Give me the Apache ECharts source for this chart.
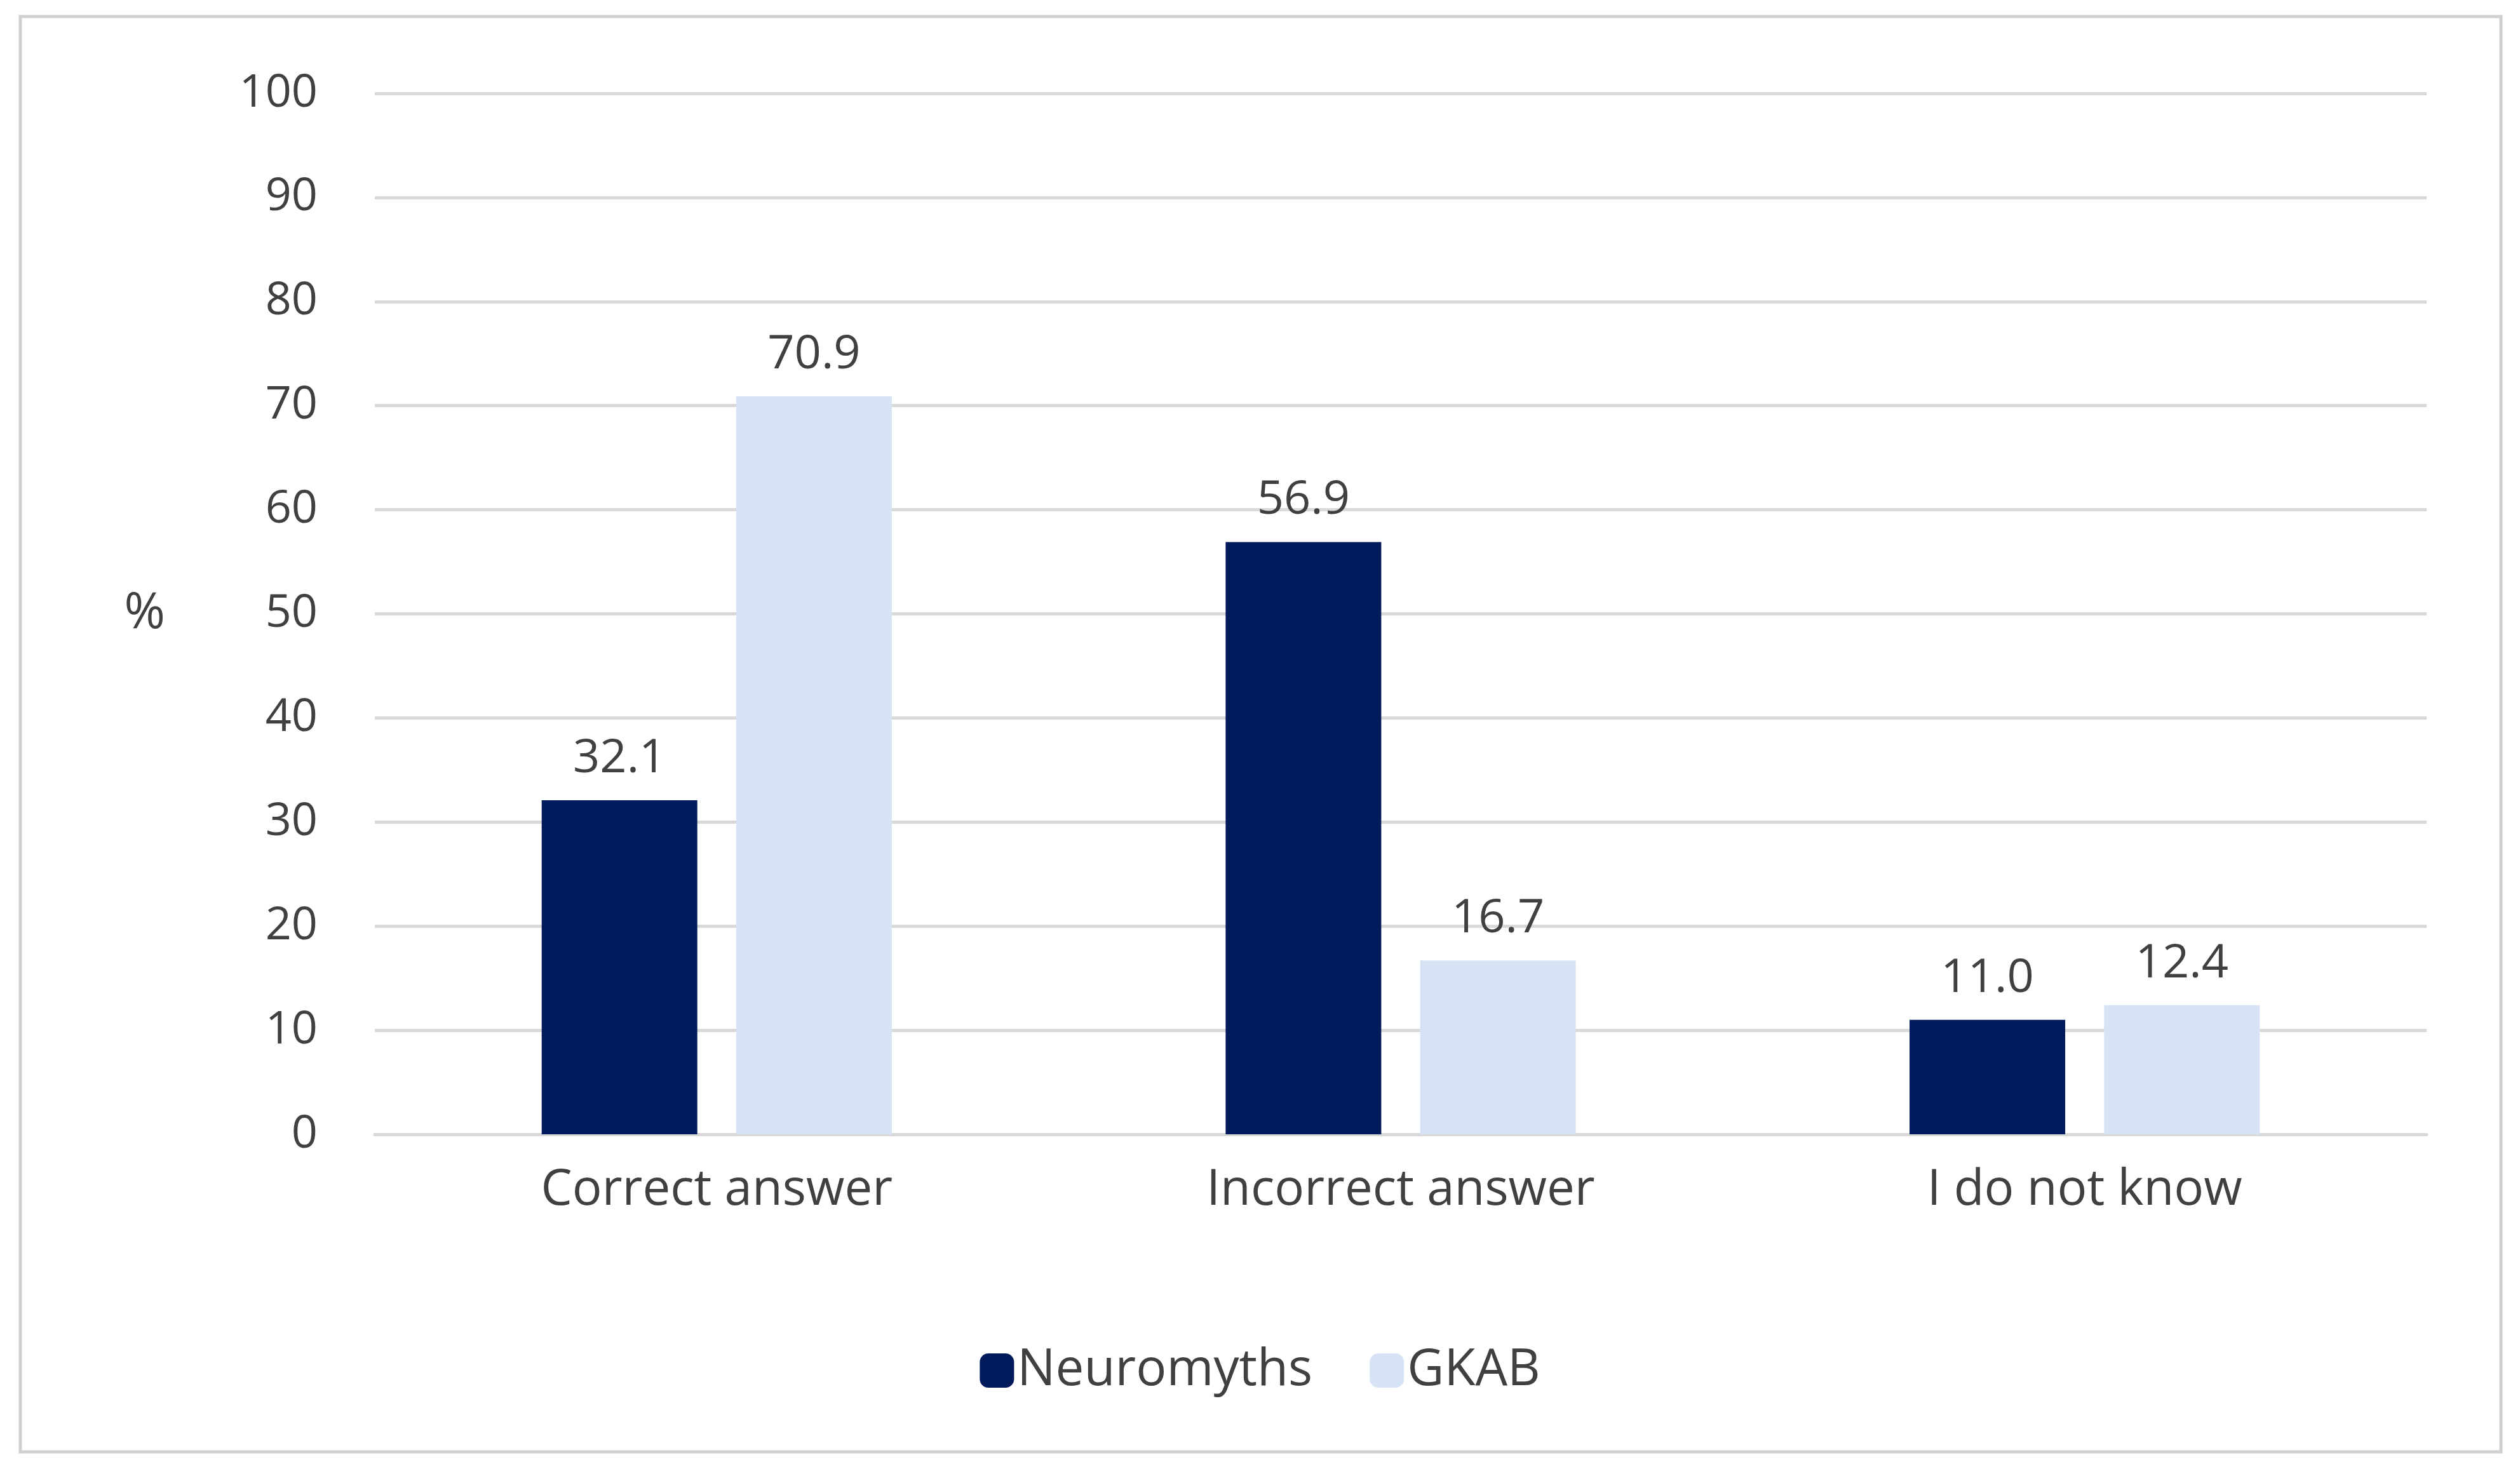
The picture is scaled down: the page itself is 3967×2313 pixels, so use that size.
<!DOCTYPE html>
<html><head><meta charset="utf-8">
<script src="https://cdn.jsdelivr.net/npm/echarts@6/dist/echarts.min.js"></script>
<style>html,body{margin:0;padding:0;background:#fff}#c{width:3967px;height:2313px}</style>
</head><body><div id="c"></div>
<script>
const categories = ['Correct answer', 'Incorrect answer', 'I do not know'];
const neuromyths = [32.1, 56.9, 11.0];
const gkab = [70.9, 16.7, 12.4];
const yTicks = [0, 10, 20, 30, 40, 50, 60, 70, 80, 90, 100];
const font = 'Open Sans';
const chart = echarts.init(document.getElementById('c'));
const lbl = {show: true, position: 'top', distance: 28, fontSize: 74, color: '#404040', fontFamily: font, formatter: p => p.value.toFixed(1)};
chart.setOption({
  animation: false,
  graphic: [{type: 'rect', shape: {x: 32, y: 26, width: 3905, height: 2260}, style: {fill: 'none', stroke: '#d0d0d0', lineWidth: 5}}],
  grid: {left: 590, right: 147, top: 147, bottom: 527, containLabel: false},
  legend: {bottom: 110, left: 'center', itemWidth: 54, itemHeight: 54, itemGap: 90, textStyle: {fontSize: 80, color: '#404040', fontFamily: font},
    data: ['Neuromyths', 'GKAB']},
  xAxis: {type: 'category', data: categories, axisTick: {show: false},
    axisLine: {lineStyle: {color: '#d9d9d9', width: 5}},
    axisLabel: {fontSize: 78, color: '#404040', fontFamily: font, margin: 50}},
  yAxis: {type: 'value', min: 0, max: 100, interval: 10, name: '%', nameLocation: 'middle', nameRotate: 0, nameGap: 330,
    nameTextStyle: {fontSize: 78, color: '#404040', fontFamily: font},
    axisLabel: {fontSize: 72, color: '#404040', fontFamily: font, margin: 90, formatter: v => yTicks.includes(v) ? String(v) : ''},
    splitLine: {lineStyle: {color: '#d9d9d9', width: 5}}, axisLine: {show: false}},
  series: [
    {name: 'Neuromyths', type: 'bar', data: neuromyths, barWidth: 245, barGap: '25%', itemStyle: {color: '#001a5c'}, label: lbl},
    {name: 'GKAB', type: 'bar', data: gkab, barWidth: 245, itemStyle: {color: '#d6e3f5'}, label: lbl}
  ]
});
</script></body></html>
